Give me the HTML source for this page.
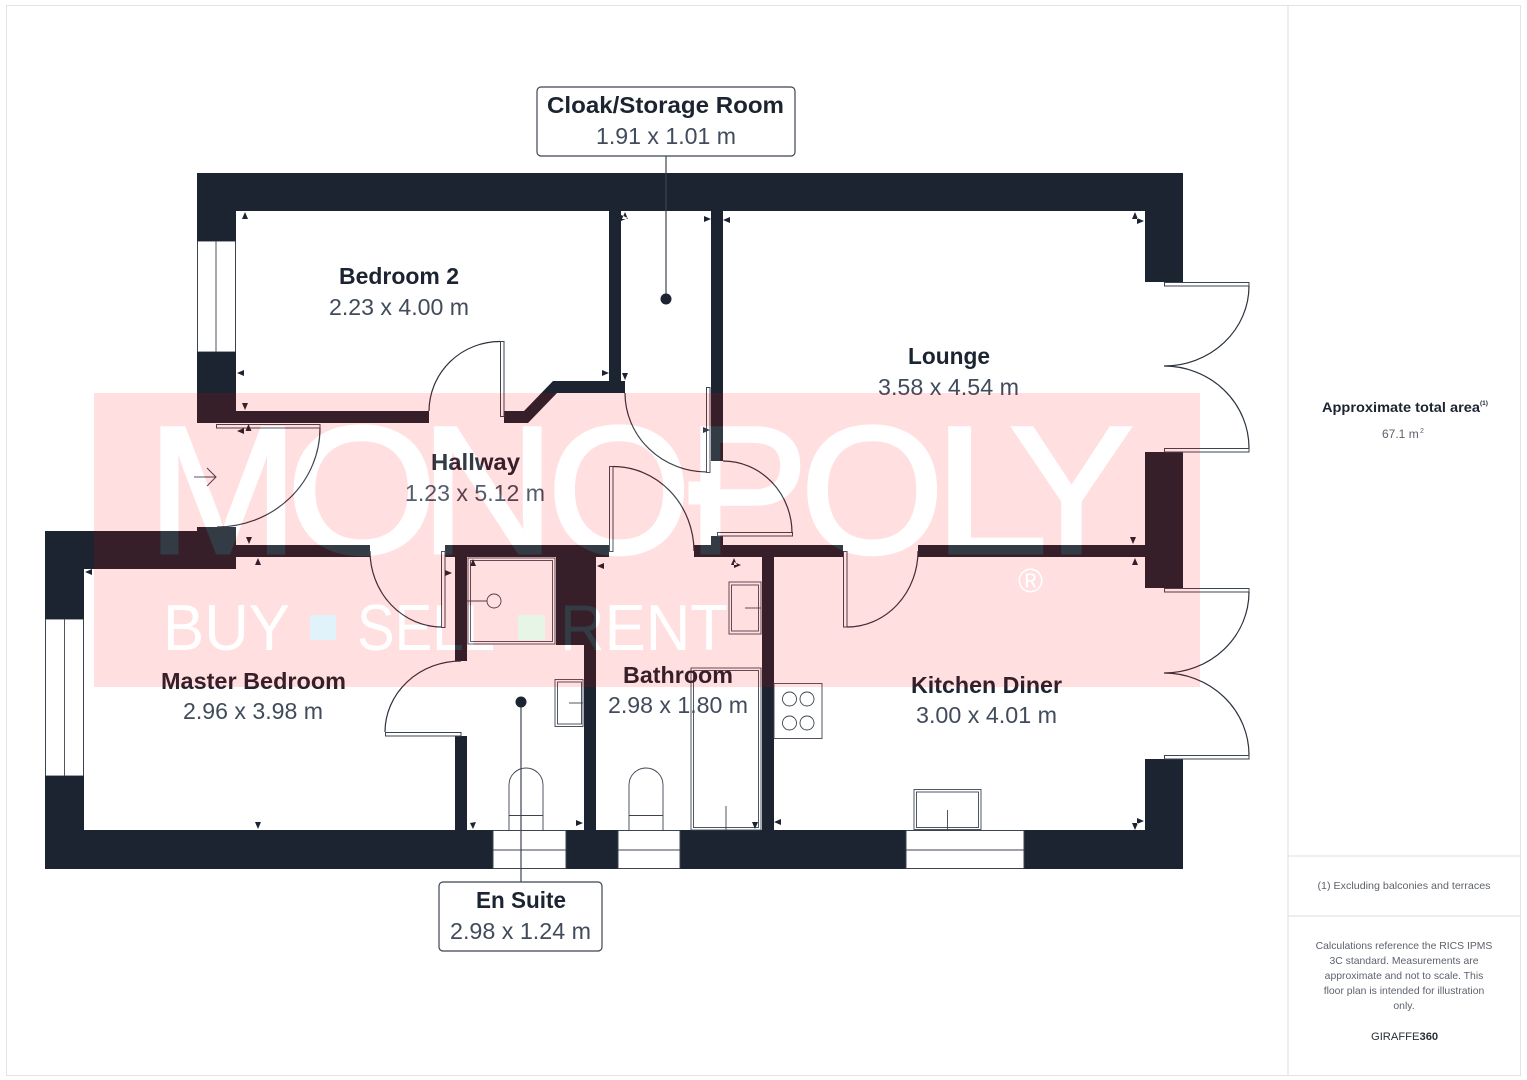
<!DOCTYPE html>
<html><head><meta charset="utf-8"><style>
html,body{margin:0;padding:0;background:#fff;width:1527px;height:1080px;overflow:hidden}
svg{display:block}
text{font-family:"Liberation Sans",sans-serif}
.t{font-weight:700;font-size:23px;fill:#1b2430}
.d{font-size:23px;fill:#414b5b}
.f{font-size:10.4px;fill:#5d626b;text-anchor:middle}
.l{fill:#fff;stroke:#3c4450;stroke-width:1}
.n{fill:none;stroke:#3c4450;stroke-width:.9}
.a{fill:none;stroke:#2a323d;stroke-width:1.2}
.w{fill:#1b2430}
.h{fill:#1b2430}
</style></head><body>
<svg width="1527" height="1080" viewBox="0 0 1527 1080" xmlns="http://www.w3.org/2000/svg">
<defs>
<g id="big">
<text font-size="182" transform="translate(147,553) scale(1,1)">M</text>
<text font-size="182" transform="translate(286,553) scale(1.07,1)">O</text>
<text font-size="182" transform="translate(420,553) scale(1.03,1)">N</text>
<text font-size="182" transform="translate(547,553) scale(1.02,1)">O</text>
<text font-size="182" transform="translate(687,553) scale(1,1)">P</text>
<text font-size="182" transform="translate(800,553) scale(1.02,1)">O</text>
<text font-size="182" transform="translate(933,553) scale(1.14,1)">L</text>
<text font-size="182" transform="translate(1009,553) scale(1.03,1)">Y</text>
<rect x="690" y="483" width="28" height="20"/>
</g>
<g id="small">
<text x="163" y="650" font-size="65" textLength="127" lengthAdjust="spacingAndGlyphs">BUY</text>
<text x="357" y="650" font-size="65" textLength="138" lengthAdjust="spacingAndGlyphs">SELL</text>
<text x="560" y="650" font-size="65" textLength="168" lengthAdjust="spacingAndGlyphs">RENT</text>
<text x="1018" y="592" font-size="34">®</text>
</g>
<mask id="m" maskUnits="userSpaceOnUse" x="0" y="0" width="1527" height="1080">
<rect x="94" y="393" width="1106" height="294" fill="#fff"/>
<use href="#big" fill="#000" stroke="#000" stroke-width="3"/>
<use href="#small" fill="#000"/>
<rect x="310" y="615" width="26" height="25" fill="#000"/>
<rect x="518" y="615" width="27" height="25" fill="#000"/>
</mask>
<clipPath id="c"><rect x="94" y="393" width="1106" height="294"/></clipPath>
</defs>

<!-- frame -->
<rect x="6.5" y="5.5" width="1514" height="1070" fill="#fff" stroke="#e3e3e3" stroke-width="1"/>
<path d="M1288 6V1075M1288 856H1521M1288 916H1521" stroke="#e3e3e3" stroke-width="1.2" fill="none"/>

<!-- windows -->
<rect class="l" x="197.5" y="241" width="38" height="111"/><path class="n" d="M216 241V352"/>
<rect class="l" x="45.5" y="619" width="38" height="157"/><path class="n" d="M64.500 619V776"/>

<!-- walls -->
<path class="w" d="M197 173H1183V282H1145V211H723V461H711V211H621V381H625V393H557L528 423H504V411H524L553 381H609V211H236V241H197Z"/>
<path class="w" d="M197 352H236V411H429V423H197Z"/>
<path class="w" d="M45 531H197V527H236V545H370V557H236V569H84V619H45Z"/>
<path class="w" d="M45 776H84V830H455V736H467V830H584V645H556V557H467V661H455V557H445V545H609V557H596V830H762V557H694V545H711V536H723V545H843V557H774V830H1145V759H1183V869H1024V850H906V869H680V850H618V869H566V850H493V869H45Z"/>
<path class="w" d="M918 545H1145V452H1183V588H1145V557H918Z"/>
<rect class="l" x="493" y="830.500" width="73" height="38"/><path class="n" d="M493 850H566"/>
<rect class="l" x="618" y="830.500" width="62" height="38"/><path class="n" d="M618 850H680"/>
<rect class="l" x="906" y="830.500" width="118" height="38"/><path class="n" d="M906 850H1024"/>

<!-- door leaves -->
<rect class="l" x="500.500" y="341.500" width="3.500" height="75"/>
<rect class="l" x="216.500" y="424.500" width="103.500" height="3.500"/>
<rect class="l" x="706.500" y="387.500" width="3.500" height="85"/>
<rect class="l" x="609.500" y="466.500" width="3.500" height="85"/>
<rect class="l" x="717.500" y="532.500" width="75" height="3.500"/>
<rect class="l" x="843.500" y="551.500" width="3.500" height="75.500"/>
<rect class="l" x="441.500" y="551.500" width="3.500" height="76"/>
<rect class="l" x="385.500" y="732.500" width="75.500" height="3.500"/>
<rect class="l" x="1164.500" y="282.500" width="84.500" height="3.500"/>
<rect class="l" x="1164.500" y="448.500" width="84.500" height="3.500"/>
<rect class="l" x="1164.500" y="588.500" width="84.500" height="3.500"/>
<rect class="l" x="1164.500" y="755.500" width="84.500" height="3.500"/>

<!-- door arcs -->
<path class="a" d="M500 341.500A71 70 0 0 0 429 411"/>
<path class="a" d="M320 428A103 99 0 0 1 217 527"/>
<path class="a" d="M625 393A82 79 0 0 0 707 472"/>
<path class="a" d="M613 466.500A81 85 0 0 1 694 551"/>
<path class="a" d="M723 461A69 72 0 0 1 792 533"/>
<path class="a" d="M847 627A71 76 0 0 0 918 551"/>
<path class="a" d="M370 551A72 76 0 0 0 442 627"/>
<path class="a" d="M385 732A76 71 0 0 1 461 661"/>
<path class="a" d="M1249 286A85 80 0 0 1 1164 366A85 82 0 0 1 1249 448"/>
<path class="a" d="M1249 592A85 81 0 0 1 1164 673A85 82 0 0 1 1249 755"/>

<!-- entry arrow -->
<path d="M194 477H216M207 468L216 477L207 486" fill="none" stroke="#3c4450" stroke-width="1"/>

<!-- fixtures -->
<rect class="n" x="468" y="558" width="87" height="86"/><rect class="n" x="470.500" y="560.500" width="82" height="81"/>
<circle class="n" cx="494" cy="601" r="7"/><path class="n" d="M467 601H487"/>
<rect class="n" x="555" y="679.500" width="28" height="47"/><rect class="n" x="557.500" y="682" width="24" height="42"/><path class="n" d="M569 703H583"/>
<path class="n" d="M509 830V785A17 17 0 0 1 543 785V830M509 815.500H543"/>
<path class="n" d="M629 830V785A17 17 0 0 1 663 785V830M629 815.500H663"/>
<rect class="n" x="729" y="582" width="32" height="52"/><rect class="n" x="731.500" y="585" width="27" height="46"/><path class="n" d="M745 608H761"/>
<rect class="n" x="691" y="668" width="70" height="162"/><rect class="n" x="693.500" y="670.500" width="65" height="157"/><path class="n" d="M726 806V830"/>
<rect class="n" x="774" y="683.500" width="48" height="55"/>
<circle class="n" cx="789.500" cy="699" r="7"/><circle class="n" cx="807" cy="699" r="7"/><circle class="n" cx="789.500" cy="723" r="7"/><circle class="n" cx="807" cy="723" r="7"/>
<rect class="n" x="914" y="789.500" width="67" height="40"/><rect class="n" x="916.500" y="792" width="62" height="35.500"/><path class="n" d="M947.500 810V830"/>

<!-- dimension arrowheads -->
<g class="h">
<path d="M245 212l3 7h-6zM237 373l7-3v6zM245 410l-3-7h6zM248.500 424l3 7h-6zM237 431l7-3v6z"/>
<path d="M249 544l-3-7h6zM258 558l3 7h-6zM258 829l-3-7h6zM85 572l7-3v6z"/>
<path d="M625 212l3 7h-6zM628 218l-7-3v6M711 219l-7-3v6zM609 373l-7-3v6zM625 380l-3-7h6zM710 430l-7-3v6z"/>
<path d="M723 220l7-3v6zM1135 212l3 7h-6zM1144 221l-7-3v6z"/>
<path d="M1133 544l-3-7h6zM1135 558l3 7h-6zM1135 830l-3-7h6zM1144 821l-7-3v6zM774 822l7-3v6zM755 829l-3-7h6zM734 558l3 7h-6zM741 565l-7-3v6z"/>
<path d="M597 566l7-3v6zM452 573l-7-3v6zM473 559l3 7h-6zM473 829l-3-6l6-1zM583 823l-7-3v6z"/>
</g>

<!-- callouts -->
<path d="M666 156V299M521 702V882" stroke="#3c4450" stroke-width="1.2" fill="none"/>
<circle cx="666" cy="299" r="5.500" fill="#1b2430"/><circle cx="521" cy="702" r="5.500" fill="#1b2430"/>
<rect x="537" y="87" width="258" height="69" rx="4" fill="#fff" stroke="#3c4450" stroke-width="1.2"/>
<rect x="439" y="882" width="163" height="69" rx="4" fill="#fff" stroke="#3c4450" stroke-width="1.2"/>

<!-- labels -->
<text class="t" x="547" y="113" textLength="237" lengthAdjust="spacingAndGlyphs">Cloak/Storage Room</text>
<text class="d" x="596" y="144" textLength="140" lengthAdjust="spacingAndGlyphs">1.91 x 1.01 m</text>
<text class="t" x="339" y="284" textLength="120" lengthAdjust="spacingAndGlyphs">Bedroom 2</text>
<text class="d" x="329" y="315" textLength="140" lengthAdjust="spacingAndGlyphs">2.23 x 4.00 m</text>
<text class="t" x="908" y="364" textLength="82" lengthAdjust="spacingAndGlyphs">Lounge</text>
<text class="d" x="878" y="395" textLength="141" lengthAdjust="spacingAndGlyphs">3.58 x 4.54 m</text>
<text class="t" x="431" y="470" textLength="89" lengthAdjust="spacingAndGlyphs">Hallway</text>
<text class="d" x="405" y="501" textLength="140" lengthAdjust="spacingAndGlyphs">1.23 x 5.12 m</text>
<text class="t" x="161" y="689" textLength="185" lengthAdjust="spacingAndGlyphs">Master Bedroom</text>
<text class="d" x="183" y="719" textLength="140" lengthAdjust="spacingAndGlyphs">2.96 x 3.98 m</text>
<text class="t" x="623" y="683" textLength="110" lengthAdjust="spacingAndGlyphs">Bathroom</text>
<text class="d" x="608" y="713" textLength="140" lengthAdjust="spacingAndGlyphs">2.98 x 1.80 m</text>
<text class="t" x="911" y="693" textLength="151" lengthAdjust="spacingAndGlyphs">Kitchen Diner</text>
<text class="d" x="916" y="723" textLength="141" lengthAdjust="spacingAndGlyphs">3.00 x 4.01 m</text>
<text class="t" x="476" y="908" textLength="90" lengthAdjust="spacingAndGlyphs">En Suite</text>
<text class="d" x="450" y="939" textLength="141" lengthAdjust="spacingAndGlyphs">2.98 x 1.24 m</text>

<!-- watermark -->
<rect x="94" y="393" width="1106" height="294" fill="#ff0000" fill-opacity=".125" mask="url(#m)"/>
<g clip-path="url(#c)" fill="#ffffff" opacity=".1"><use href="#big" stroke="#ffffff" stroke-width="3"/><use href="#small"/></g>
<rect x="310" y="615" width="26" height="25" fill="#e0f3fb"/>
<rect x="518" y="615" width="27" height="25" fill="#e6f5e6"/>

<!-- side panel -->
<text x="1322" y="412" font-size="13.500" font-weight="700" fill="#1b2430" textLength="158" lengthAdjust="spacingAndGlyphs">Approximate total area</text>
<text x="1480" y="405" font-size="6.500" font-weight="700" fill="#1b2430">(1)</text>
<text x="1382" y="438" font-size="12" fill="#5d626b">67.1 m</text>
<text x="1420" y="433" font-size="7" fill="#5d626b">2</text>
<text class="f" x="1404" y="889" textLength="173" lengthAdjust="spacingAndGlyphs">(1) Excluding balconies and terraces</text>
<text class="f" x="1404" y="949">Calculations reference the RICS IPMS</text>
<text class="f" x="1404" y="964">3C standard. Measurements are</text>
<text class="f" x="1404" y="979">approximate and not to scale. This</text>
<text class="f" x="1404" y="994">floor plan is intended for illustration</text>
<text class="f" x="1404" y="1009">only.</text>
<text x="1371" y="1040" font-size="11.200" fill="#2a2f38">GIRAFFE<tspan font-weight="700">360</tspan></text>
</svg>
</body></html>
